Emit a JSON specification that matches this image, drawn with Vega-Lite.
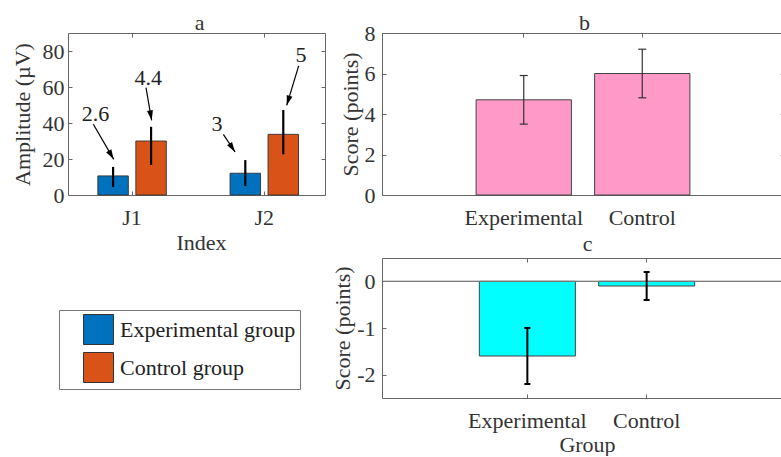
{
  "$schema": "https://vega.github.io/schema/vega-lite/v6.json",
  "background": "white",
  "padding": {"left": 10, "top": 10, "right": 0, "bottom": 0},
  "config": {
    "font": "Liberation Serif",
    "view": {"stroke": "#666", "strokeWidth": 1},
    "axis": {
      "labelFont": "Liberation Serif",
      "titleFont": "Liberation Serif",
      "labelFontSize": 22,
      "titleFontSize": 22,
      "titleFontWeight": "normal",
      "labelColor": "#333",
      "titleColor": "#333",
      "tickColor": "#666",
      "tickSize": -4,
      "domain": false,
      "grid": false
    }
  },
  "datasets": {
    "panelA": [
      {"index": "J1", "group": "Experimental group", "value": 10.6, "lo": 4.4, "hi": 15.6},
      {"index": "J1", "group": "Control group", "value": 30.0, "lo": 16.7, "hi": 37.9},
      {"index": "J2", "group": "Experimental group", "value": 12.1, "lo": 5.0, "hi": 19.4},
      {"index": "J2", "group": "Control group", "value": 33.7, "lo": 22.6, "hi": 47.2}
    ],
    "arrows": [
      {"label": "2.6", "tx": 0.714, "ty": 45.0, "x1": 0.697, "y1": 39.3, "x2": 0.856, "y2": 19.8},
      {"label": "4.4", "tx": 1.125, "ty": 65.2, "x1": 1.107, "y1": 59.6, "x2": 1.151, "y2": 41.5},
      {"label": "3", "tx": 1.660, "ty": 39.4, "x1": 1.709, "y1": 33.7, "x2": 1.800, "y2": 23.9},
      {"label": "5", "tx": 2.313, "ty": 77.9, "x1": 2.295, "y1": 71.7, "x2": 2.202, "y2": 49.8}
    ],
    "panelB": [
      {"group": "Experimental", "score": 4.7, "lo": 3.5, "hi": 5.9},
      {"group": "Control", "score": 6.0, "lo": 4.8, "hi": 7.2}
    ],
    "panelC": [
      {"group": "Experimental", "score": -1.6, "lo": -2.2, "hi": -1.0},
      {"group": "Control", "score": -0.1, "lo": -0.4, "hi": 0.2}
    ]
  },
  "bounds": "flush",
  "spacing": 57,
  "hconcat": [
    {
      "width": 257,
      "height": 162,
      "layer": [
        {
          "data": {"name": "panelA"},
          "mark": {"type": "bar", "stroke": "#333", "strokeWidth": 0.9},
          "encoding": {
            "x": {"field": "index", "type": "nominal",
              "scale": {"domain": ["J1", "J2"], "paddingInner": 0.482, "paddingOuter": 0.213, "align": 0.53},
              "axis": {"orient": "bottom", "title": "Index", "labelAngle": 0, "labelPadding": 16, "titleX": 133, "titleY": 47, "titleBaseline": "middle"}},
            "xOffset": {"field": "group", "type": "nominal",
              "scale": {"domain": ["Experimental group", "Control group"], "paddingInner": 0.197, "paddingOuter": 0}},
            "y": {"field": "value", "type": "quantitative",
              "scale": {"domain": [0, 90], "nice": false},
              "axis": {"orient": "left", "title": "Amplitude (µV)", "values": [0, 20, 40, 60, 80], "labelPadding": 8, "titleX": -46, "titleY": 81, "titleBaseline": "middle", "titleAngle": -90}},
            "color": {"field": "group", "type": "nominal",
              "scale": {"domain": ["Experimental group", "Control group"], "range": ["#0072BD", "#D95319"]},
              "legend": {
                "orient": "none", "legendX": -9, "legendY": 277, "title": null,
                "symbolType": "square", "symbolSize": 900, "symbolOffset": 20,
                "symbolStrokeColor": "#333", "symbolStrokeWidth": 1,
                "labelFont": "Liberation Serif", "labelFontSize": 22, "labelColor": "#222",
                "labelOffset": 6, "rowPadding": 3, "padding": 4, "labelLimit": 0,
                "strokeColor": "#777", "fillColor": "#fff"
              }}
          }
        },
        {
          "data": {"name": "panelA"},
          "mark": {"type": "rule", "color": "#000", "strokeWidth": 2.2},
          "encoding": {
            "x": {"field": "index", "type": "nominal",
              "scale": {"domain": ["J1", "J2"], "paddingInner": 0.482, "paddingOuter": 0.213, "align": 0.53},
              "axis": {"orient": "top", "labels": false, "title": "a", "titleX": 131, "titleY": -4, "titleBaseline": "alphabetic", "titleAngle": 0}},
            "xOffset": {"field": "group", "type": "nominal",
              "scale": {"domain": ["Experimental group", "Control group"], "paddingInner": 0.197, "paddingOuter": 0}},
            "y": {"field": "lo", "type": "quantitative", "scale": {"domain": [0, 90], "nice": false},
              "axis": {"orient": "right", "labels": false, "title": null, "values": [20, 40, 60, 80]}},
            "y2": {"field": "hi"}
          }
        },
        {
          "data": {"name": "arrows"},
          "mark": {"type": "rule", "color": "#000", "strokeWidth": 1.2},
          "encoding": {
            "x": {"field": "x1", "type": "quantitative", "scale": {"domain": [0.5, 2.5], "nice": false, "zero": false}, "axis": null},
            "x2": {"field": "x2"},
            "y": {"field": "y1", "type": "quantitative", "scale": {"domain": [0, 90], "nice": false}, "axis": null},
            "y2": {"field": "y2"}
          }
        },
        {
          "data": {"name": "arrows"},
          "mark": {"type": "point", "shape": "M0,0L-1,-0.3L-1,0.3Z", "filled": true, "color": "#000", "opacity": 1, "size": 400,
            "angle": {"expr": "atan2((datum.y1 - datum.y2) * 1.8, (datum.x2 - datum.x1) * 128.5) * 180 / PI"}},
          "encoding": {
            "x": {"field": "x2", "type": "quantitative", "scale": {"domain": [0.5, 2.5], "nice": false, "zero": false}, "axis": null},
            "y": {"field": "y2", "type": "quantitative", "scale": {"domain": [0, 90], "nice": false}, "axis": null}
          }
        },
        {
          "data": {"name": "arrows"},
          "mark": {"type": "text", "fontSize": 22, "font": "Liberation Serif", "color": "#222", "baseline": "middle", "align": "center"},
          "encoding": {
            "x": {"field": "tx", "type": "quantitative", "scale": {"domain": [0.5, 2.5], "nice": false, "zero": false}, "axis": null},
            "y": {"field": "ty", "type": "quantitative", "scale": {"domain": [0, 90], "nice": false}, "axis": null},
            "text": {"field": "label"}
          }
        }
      ],
      "resolve": {"scale": {"x": "independent"}, "axis": {"x": "independent", "y": "independent"}}
    },
    {
      "bounds": "flush",
      "spacing": 63,
      "vconcat": [
        {
          "width": 402,
          "height": 162,
          "data": {"name": "panelB"},
          "layer": [
            {
              "mark": {"type": "bar", "fill": "#FF99C8", "stroke": "#444", "strokeWidth": 1},
              "encoding": {
                "x": {"field": "group", "type": "nominal",
                  "scale": {"domain": ["Experimental", "Control"], "paddingInner": 0.196, "paddingOuter": 0.794},
                  "axis": {"orient": "bottom", "title": null, "labelAngle": 0, "labelPadding": 16}},
                "y": {"field": "score", "type": "quantitative", "scale": {"domain": [0, 8], "nice": false},
                  "axis": {"orient": "left", "title": "Score (points)", "values": [0, 2, 4, 6, 8], "labelPadding": 11, "titleX": -32, "titleY": 81, "titleBaseline": "middle", "titleAngle": -90}}
              }
            },
            {
              "mark": {"type": "rule", "color": "#333", "strokeWidth": 1.2},
              "encoding": {
                "x": {"field": "group", "type": "nominal",
                  "scale": {"domain": ["Experimental", "Control"], "paddingInner": 0.196, "paddingOuter": 0.794},
                  "axis": {"orient": "top", "labels": false, "title": "b", "titleX": 202, "titleY": -4, "titleBaseline": "alphabetic", "titleAngle": 0}},
                "y": {"field": "lo", "type": "quantitative", "scale": {"domain": [0, 8], "nice": false},
                  "axis": {"orient": "right", "labels": false, "title": null, "values": [2, 4, 6]}},
                "y2": {"field": "hi"}
              }
            },
            {
              "mark": {"type": "tick", "color": "#333", "thickness": 1.2, "size": 8, "opacity": 1},
              "encoding": {
                "x": {"field": "group", "type": "nominal", "axis": null},
                "y": {"field": "lo", "type": "quantitative", "axis": null}
              }
            },
            {
              "mark": {"type": "tick", "color": "#333", "thickness": 1.2, "size": 8, "opacity": 1},
              "encoding": {
                "x": {"field": "group", "type": "nominal", "axis": null},
                "y": {"field": "hi", "type": "quantitative", "axis": null}
              }
            }
          ],
          "resolve": {"axis": {"x": "independent", "y": "independent"}}
        },
        {
          "width": 410,
          "height": 140,
          "data": {"name": "panelC"},
          "layer": [
            {
              "mark": {"type": "bar", "fill": "#00FFFF", "stroke": "#444", "strokeWidth": 1},
              "encoding": {
                "x": {"field": "group", "type": "nominal",
                  "scale": {"domain": ["Experimental", "Control"], "paddingInner": 0.195, "paddingOuter": 0.816},
                  "axis": {"orient": "bottom", "title": "Group", "labelAngle": 0, "labelPadding": 16, "titleY": 46, "titleBaseline": "middle"}},
                "y": {"field": "score", "type": "quantitative", "scale": {"domain": [-2.5, 0.5], "nice": false, "zero": false},
                  "axis": {"orient": "left", "title": "Score (points)", "values": [-2, -1, 0], "labelPadding": 11, "labelExpr": "'' + datum.value", "titleX": -40, "titleY": 70, "titleBaseline": "middle", "titleAngle": -90}}
              }
            },
            {
              "mark": {"type": "rule", "color": "#777", "strokeWidth": 1},
              "encoding": {
                "y": {"datum": 0, "type": "quantitative", "axis": null}
              }
            },
            {
              "mark": {"type": "rule", "color": "#000", "strokeWidth": 2},
              "encoding": {
                "x": {"field": "group", "type": "nominal",
                  "scale": {"domain": ["Experimental", "Control"], "paddingInner": 0.195, "paddingOuter": 0.816},
                  "axis": {"orient": "top", "labels": false, "title": "c", "titleX": 205, "titleY": -8, "titleBaseline": "alphabetic", "titleAngle": 0}},
                "y": {"field": "lo", "type": "quantitative", "axis": null},
                "y2": {"field": "hi"}
              }
            },
            {
              "mark": {"type": "tick", "color": "#000", "thickness": 2, "size": 6, "opacity": 1},
              "encoding": {
                "x": {"field": "group", "type": "nominal", "axis": null},
                "y": {"field": "lo", "type": "quantitative", "axis": null}
              }
            },
            {
              "mark": {"type": "tick", "color": "#000", "thickness": 2, "size": 6, "opacity": 1},
              "encoding": {
                "x": {"field": "group", "type": "nominal", "axis": null},
                "y": {"field": "hi", "type": "quantitative", "axis": null}
              }
            }
          ],
          "resolve": {"axis": {"x": "independent", "y": "independent"}}
        }
      ]
    }
  ]
}
